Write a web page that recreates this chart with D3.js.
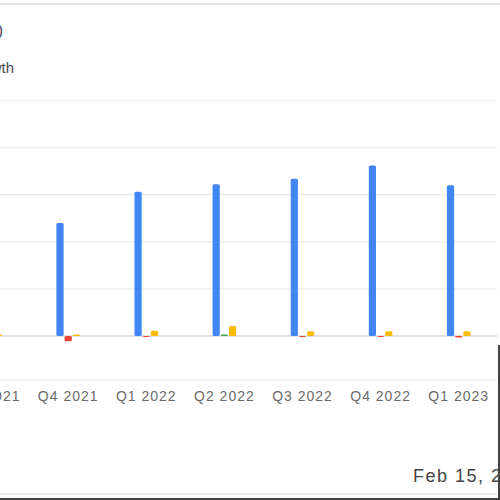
<!DOCTYPE html>
<html>
<head>
<meta charset="utf-8">
<script src="https://cdn.jsdelivr.net/npm/d3@7"></script>
<style>
  body { margin: 0; background: #fff; }
  text { font-family: "Liberation Sans", Arial, sans-serif; }
</style>
</head>
<body>
<div id="chart"></div>
<script>
// chart data (left part of the chart is cropped)
const quarters = ['Q3 2021', 'Q4 2021', 'Q1 2022', 'Q2 2022', 'Q3 2022', 'Q4 2022', 'Q1 2023'];
const revenue = [105, 120, 153, 161, 167, 181, 160];
const netIncome = [1, -5.5, -1, 1.5, -1, -1, -1.5];
const otherValue = [1.5, 1.5, 5.5, 10.5, 5, 5, 5];
const yTicks = [0, 50, 100, 150, 200, 250];
const seriesKeys = ['revenue', 'net', 'other'];

const width = 500, height = 500;

const svg = d3.select('#chart')
  .append('svg')
  .attr('width', width)
  .attr('height', height);

// panel lines
svg.append('line').attr('x1', 0).attr('x2', 500).attr('y1', 4).attr('y2', 4)
  .attr('stroke', '#e6e6e6').attr('stroke-width', 2);
svg.append('line').attr('x1', 0).attr('x2', 497).attr('y1', 380).attr('y2', 380)
  .attr('stroke', '#eeeeee').attr('stroke-width', 1.5);
svg.append('line').attr('x1', 0).attr('x2', 497).attr('y1', 494).attr('y2', 494)
  .attr('stroke', '#e6e6e6').attr('stroke-width', 1.5);
svg.append('line').attr('x1', 0).attr('x2', 500).attr('y1', 499).attr('y2', 499)
  .attr('stroke', '#444').attr('stroke-width', 2);
svg.append('line').attr('x1', 499).attr('x2', 499).attr('y1', 345).attr('y2', 500)
  .attr('stroke', '#444').attr('stroke-width', 2);

// scales
const step = 78.1;
const x0 = 68.2 - step * 1.5;
const x = d3.scaleBand()
  .domain(quarters)
  .range([x0, x0 + step * quarters.length]);

const xs = d3.scaleBand()
  .domain(seriesKeys)
  .range([0, 24.6])
  .paddingInner(0.12)
  .paddingOuter(0.06);

const y = d3.scaleLinear()
  .domain([0, 250])
  .range([336, 100.5]);

// gridlines
svg.append('g')
  .selectAll('line')
  .data(yTicks)
  .enter()
  .append('line')
  .attr('x1', 0)
  .attr('x2', 497)
  .attr('y1', d => y(d))
  .attr('y2', d => y(d))
  .attr('stroke', d => d === 0 ? '#d4d4d4' : '#ececec')
  .attr('stroke-width', d => d === 0 ? 1.5 : 1.2);

// x axis labels
const xAxis = d3.axisBottom(x).tickSize(0).tickPadding(0);
const gx = svg.append('g')
  .attr('transform', 'translate(0,388)')
  .call(xAxis);
gx.select('.domain').remove();
gx.selectAll('text')
  .attr('dy', '0.9em')
  .attr('font-size', 14)
  .attr('letter-spacing', 1)
  .attr('fill', '#6b6b6b')
  .style('font-family', '"Liberation Sans", Arial, sans-serif');

const groupStart = q => x(q) + x.bandwidth() / 2 - 12.3;

function barRect(g, values, key, color) {
  g.selectAll('rect.' + key)
    .data(quarters)
    .enter()
    .append('rect')
    .attr('class', key)
    .attr('x', (q) => groupStart(q) + xs(key))
    .attr('width', xs.bandwidth())
    .attr('y', (q, i) => y(Math.max(0, values[i])))
    .attr('height', (q, i) => Math.abs(y(values[i]) - y(0)))
    .attr('rx', 1.5)
    .attr('fill', typeof color === 'function' ? (q, i) => color(values[i]) : color);
}

const bars = svg.append('g');
barRect(bars, revenue, 'revenue', '#4285f4');
barRect(bars, netIncome, 'net', v => v < 0 ? '#ea4335' : '#34a853');
barRect(bars, otherValue, 'other', '#fbbc04');

// cropped header texts on the left
svg.append('text')
  .attr('x', 3).attr('y', 36)
  .attr('text-anchor', 'end')
  .attr('font-size', 16)
  .attr('fill', '#4a4a5a')
  .text('Revenue (USD)');
svg.append('text')
  .attr('x', 14).attr('y', 73)
  .attr('text-anchor', 'end')
  .attr('font-size', 15)
  .attr('fill', '#4a4a5a')
  .text('Net Cash Growth');

// date
svg.append('text')
  .attr('x', 413).attr('y', 482)
  .attr('font-size', 18)
  .attr('letter-spacing', 1.5)
  .attr('fill', '#444')
  .text('Feb 15, 2023');
</script>
</body>
</html>
